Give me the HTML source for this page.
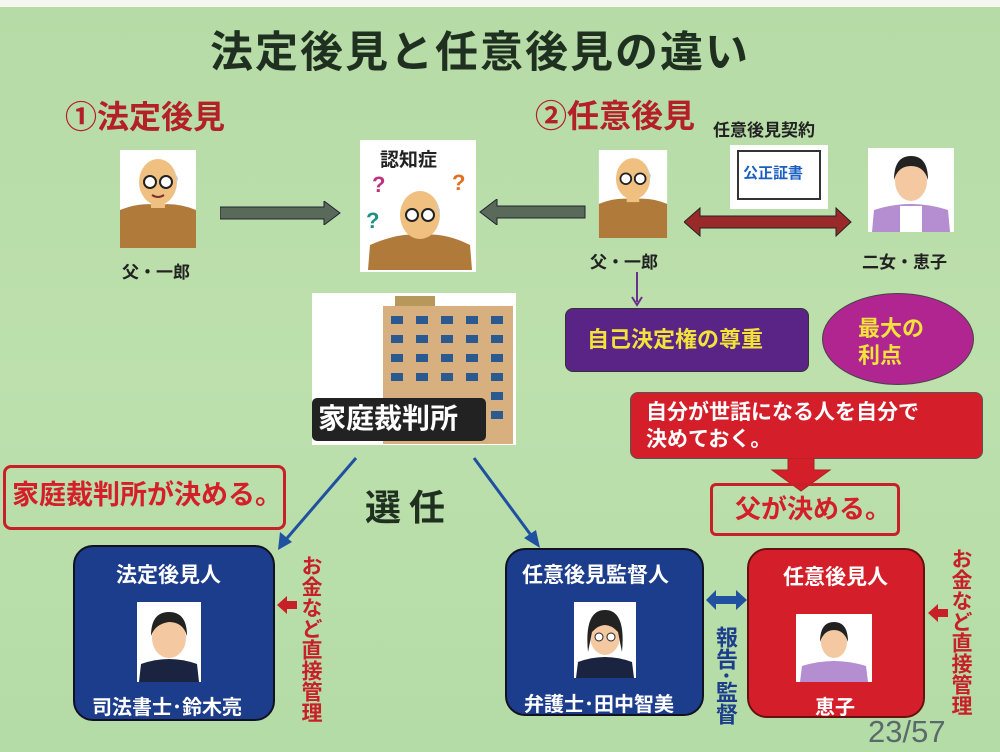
<!DOCTYPE html>
<html><head><meta charset="utf-8"><style>
*{margin:0;padding:0;box-sizing:border-box}
body{width:1000px;height:752px;overflow:hidden;background:#b8dca8;font-family:"Liberation Sans","Noto Sans CJK JP",sans-serif;position:relative}
.a{position:absolute}
.t{position:absolute;white-space:nowrap;font-weight:bold;line-height:1}
.vt{position:absolute;writing-mode:vertical-rl;font-weight:bold;line-height:1}
</style></head><body>
<div class="a" style="left:0;top:0;width:1000px;height:752px;background:linear-gradient(180deg,#b6dba6 0%,#bde0ad 50%,#b4dca6 100%)"></div>
<div class="a" style="left:0;top:0;width:1000px;height:7px;background:#f4f6f0"></div>

<div class="t" style="left:210px;top:32px;font-size:43px;color:#1f3020;letter-spacing:2px">法定後見と任意後見の違い</div>
<div class="t" style="left:65px;top:101px;font-size:32px;color:#b42028">①法定後見</div>
<div class="t" style="left:535px;top:100px;font-size:32px;color:#b42028">②任意後見</div>
<div class="t" style="left:713px;top:122px;font-size:17px;color:#222">任意後見契約</div>

<svg class="a" style="left:120px;top:150px" width="76" height="98" viewBox="0 0 76 98">
<rect width="76" height="98" fill="#fff"/><path d="M0 98 L0 60 Q20 52 38 55 Q56 52 76 60 L76 98Z" fill="#b07a3a"/>
<rect x="31" y="44" width="14" height="14" fill="#f0c080"/><ellipse cx="38" cy="32" rx="19" ry="23" fill="#f0c080"/><path d="M50 15 Q60 30 54 45 L58 28Z" fill="#ccc"/>
<circle cx="30" cy="32" r="6" fill="#fff" stroke="#222" stroke-width="2"/><circle cx="46" cy="32" r="6" fill="#fff" stroke="#222" stroke-width="2"/><path d="M32 45 Q38 49 44 45" stroke="#733" fill="none" stroke-width="2"/></svg>
<div class="t" style="left:122px;top:264px;font-size:17px;color:#222">父・一郎</div>

<svg class="a" style="left:220px;top:201px" width="122" height="24"><path d="M0 6 H104 V0 L120 12 L104 24 V18 H0Z" fill="#5a6a5a" stroke="#223" stroke-width="1"/></svg>

<svg class="a" style="left:360px;top:140px" width="116" height="132" viewBox="0 0 116 132">
<rect width="116" height="132" fill="#fff"/><path d="M8 130 L10 105 Q40 92 60 95 Q85 92 110 105 L112 130Z" fill="#b07a3a"/>
<ellipse cx="60" cy="75" rx="20" ry="24" fill="#f0c080"/><path d="M72 55 Q82 72 76 90 L80 70Z" fill="#ccc"/>
<circle cx="52" cy="75" r="6" fill="#fff" stroke="#222" stroke-width="2"/><circle cx="68" cy="75" r="6" fill="#fff" stroke="#222" stroke-width="2"/>
<text x="20" y="26" font-size="19" font-weight="bold" fill="#222" font-family="Liberation Sans,Noto Sans CJK JP,sans-serif">認知症</text>
<text x="12" y="52" font-size="22" font-weight="bold" fill="#c03080">?</text><text x="92" y="50" font-size="22" font-weight="bold" fill="#e07020">?</text><text x="6" y="88" font-size="22" font-weight="bold" fill="#209080">?</text></svg>

<svg class="a" style="left:479px;top:199px" width="108" height="26"><path d="M106 7 H18 V0 L1 13 L18 26 V19 H106Z" fill="#5a6a5a" stroke="#223"/></svg>

<svg class="a" style="left:597px;top:150px" width="72" height="88" viewBox="0 0 76 98">
<rect width="76" height="98" fill="#fff"/><path d="M0 98 L0 60 Q20 52 38 55 Q56 52 76 60 L76 98Z" fill="#b07a3a"/>
<rect x="31" y="44" width="14" height="14" fill="#f0c080"/><ellipse cx="38" cy="32" rx="19" ry="23" fill="#f0c080"/><path d="M50 15 Q60 30 54 45 L58 28Z" fill="#ccc"/>
<circle cx="30" cy="32" r="6" fill="#fff" stroke="#222" stroke-width="2"/><circle cx="46" cy="32" r="6" fill="#fff" stroke="#222" stroke-width="2"/></svg>
<div class="t" style="left:590px;top:254px;font-size:17px;color:#222">父・一郎</div>

<div class="a" style="left:730px;top:145px;width:98px;height:64px;background:#fff"></div>
<div class="a" style="left:737px;top:150px;width:84px;height:50px;border:2px solid #333;background:#fff"></div>
<div class="t" style="left:743px;top:166px;font-size:15px;color:#1b5fc0">公正証書</div>

<svg class="a" style="left:684px;top:207px" width="168" height="30"><path d="M0 15 L16 1 V9 H152 V1 L167 15 L152 29 V21 H16 V29Z" fill="#9a2a2a" stroke="#222"/></svg>

<svg class="a" style="left:868px;top:148px" width="86" height="84" viewBox="0 0 86 84">
<rect width="86" height="84" fill="#fff"/><path d="M4 84 L6 62 Q43 50 80 62 L82 84Z" fill="#b48ed0"/><rect x="32" y="58" width="22" height="26" fill="#fff"/>
<ellipse cx="43" cy="33" rx="16" ry="20" fill="#f4c8a0"/><path d="M26 32 Q26 8 43 8 Q60 8 60 32 Q56 18 43 18 Q30 18 26 32Z" fill="#222"/></svg>
<div class="t" style="left:862px;top:254px;font-size:17px;color:#222">二女・恵子</div>

<svg class="a" style="left:630px;top:272px" width="14" height="36"><path d="M7 0 V30 M2 25 L7 33 L12 25" stroke="#6a3090" stroke-width="2" fill="none"/></svg>
<div class="a" style="left:565px;top:308px;width:244px;height:64px;background:#5a2487;border:1px solid #333;border-radius:8px"></div>
<div class="t" style="left:587px;top:329px;font-size:22px;color:#f2e23a">自己決定権の尊重</div>
<div class="a" style="left:822px;top:293px;width:152px;height:92px;background:#b02590;border:1px solid #444;border-radius:50%"></div>
<div class="t" style="left:858px;top:315px;font-size:22px;color:#f2e23a;line-height:27px;white-space:normal;width:70px">最大の<br>利点</div>

<div class="a" style="left:312px;top:293px;width:204px;height:152px;background:#fff"></div>
<div class="a" style="left:395px;top:296px;width:40px;height:14px;background:#b8985a"></div>
<div class="a" style="left:383px;top:306px;width:130px;height:138px;background:#d8b080"></div>
<svg class="a" style="left:388px;top:316px" width="125" height="124">
<g fill="#2a5a90">
<rect x="3" y="0" width="12" height="8"/><rect x="28" y="0" width="12" height="8"/><rect x="53" y="0" width="12" height="8"/><rect x="78" y="0" width="12" height="8"/><rect x="103" y="0" width="12" height="8"/>
<rect x="3" y="19" width="12" height="8"/><rect x="28" y="19" width="12" height="8"/><rect x="53" y="19" width="12" height="8"/><rect x="78" y="19" width="12" height="8"/><rect x="103" y="19" width="12" height="8"/>
<rect x="3" y="38" width="12" height="8"/><rect x="28" y="38" width="12" height="8"/><rect x="53" y="38" width="12" height="8"/><rect x="78" y="38" width="12" height="8"/><rect x="103" y="38" width="12" height="8"/>
<rect x="3" y="57" width="12" height="8"/><rect x="28" y="57" width="12" height="8"/><rect x="53" y="57" width="12" height="8"/><rect x="78" y="57" width="12" height="8"/><rect x="103" y="57" width="12" height="8"/>
<rect x="103" y="76" width="12" height="8"/><rect x="103" y="95" width="12" height="8"/></g></svg>
<div class="a" style="left:312px;top:398px;width:174px;height:43px;background:#222;border-radius:5px"></div>
<div class="t" style="left:318px;top:405px;font-size:28px;color:#fff">家庭裁判所</div>

<div class="a" style="left:630px;top:392px;width:353px;height:67px;background:#d41f2a;border:1px solid #555;border-radius:8px"></div>
<div class="t" style="left:646px;top:399px;font-size:21px;color:#fff;line-height:27px">自分が世話になる人を自分で<br>決めておく。</div>
<svg class="a" style="left:770px;top:458px" width="62" height="34"><path d="M18 0 H44 V12 H60 L31 33 L2 12 H18Z" fill="#d41f2a" stroke="#a22"/></svg>
<div class="a" style="left:710px;top:483px;width:190px;height:53px;border:3px solid #c82028;border-radius:6px"></div>
<div class="t" style="left:735px;top:496px;font-size:26px;color:#d41f2a">父が決める。</div>
<div class="a" style="left:3px;top:465px;width:283px;height:65px;border:3px solid #c82028;border-radius:8px"></div>
<div class="t" style="left:12px;top:482px;font-size:27px;color:#d41f2a">家庭裁判所が決める。</div>

<svg class="a" style="left:0;top:0" width="1000" height="752">
<path d="M356 458 L282 544" stroke="#2050a0" stroke-width="3"/><path d="M278 550 L280 532 L292 542Z" fill="#2050a0"/>
<path d="M474 458 L536 542" stroke="#2050a0" stroke-width="3"/><path d="M540 548 L524 538 L536 530Z" fill="#2050a0"/>
<path d="M706 600 L716 590 V596 H736 V590 L747 600 L736 610 V604 H716 V610Z" fill="#2050a0"/>
<path d="M277 605 L287 596 V601 H297 V609 H287 V614Z" fill="#c82028"/>
<path d="M928 613 L938 604 V609 H948 V617 H938 V622Z" fill="#c82028"/>
</svg>
<div class="t" style="left:365px;top:490px;font-size:36px;color:#1f3020;letter-spacing:8px">選任</div>

<div class="a" style="left:73px;top:545px;width:202px;height:176px;background:#1c3c8c;border:2px solid #112;border-radius:20px"></div>
<div class="t" style="left:116px;top:565px;font-size:21px;color:#fff">法定後見人</div>
<svg class="a" style="left:137px;top:602px" width="64" height="80"><rect width="64" height="80" fill="#fff"/><path d="M2 80 L4 62 Q32 52 60 62 L62 80Z" fill="#1a2440"/><ellipse cx="32" cy="36" rx="17" ry="20" fill="#f4c8a0"/><path d="M14 34 Q14 10 32 10 Q50 10 50 34 Q46 20 32 20 Q18 22 14 34Z" fill="#222"/></svg>
<div class="t" style="left:92px;top:698px;font-size:20px;color:#fff">司法書士･鈴木亮</div>
<div class="vt" style="left:300px;top:555px;font-size:21px;color:#c82028">お金など直接管理</div>

<div class="a" style="left:505px;top:548px;width:199px;height:168px;background:#1c3c8c;border:2px solid #112;border-radius:20px"></div>
<div class="t" style="left:522px;top:565px;font-size:21px;color:#fff">任意後見監督人</div>
<svg class="a" style="left:574px;top:602px" width="62" height="76"><rect width="62" height="76" fill="#fff"/><path d="M2 76 L4 60 Q31 50 58 60 L60 76Z" fill="#1a2440"/><ellipse cx="31" cy="34" rx="15" ry="19" fill="#f4c8a0"/><path d="M14 50 Q10 8 31 8 Q52 8 48 50 L44 30 Q31 16 18 30Z" fill="#222"/><circle cx="25" cy="35" r="4" fill="#fff" stroke="#222"/><circle cx="37" cy="35" r="4" fill="#fff" stroke="#222"/></svg>
<div class="t" style="left:524px;top:695px;font-size:20px;color:#fff">弁護士･田中智美</div>
<div class="vt" style="left:714px;top:626px;font-size:22px;color:#1c3c8c">報告･監督</div>

<div class="a" style="left:747px;top:548px;width:178px;height:170px;background:#d41f2a;border:2px solid #611;border-radius:20px"></div>
<div class="t" style="left:783px;top:567px;font-size:21px;color:#fff">任意後見人</div>
<svg class="a" style="left:796px;top:614px" width="76" height="68"><rect width="76" height="68" fill="#fff"/><path d="M4 68 L6 52 Q38 42 70 52 L72 68Z" fill="#b48ed0"/><ellipse cx="38" cy="28" rx="13" ry="16" fill="#f4c8a0"/><path d="M24 28 Q24 8 38 8 Q52 8 52 28 Q48 16 38 16 Q28 16 24 28Z" fill="#222"/></svg>
<div class="t" style="left:815px;top:698px;font-size:20px;color:#fff">恵子</div>
<div class="vt" style="left:950px;top:548px;font-size:21px;color:#c82028">お金など直接管理</div>
<div class="t" style="left:868px;top:716px;font-size:31px;font-weight:normal;color:#5a6a6a">23/57</div>
</body></html>
